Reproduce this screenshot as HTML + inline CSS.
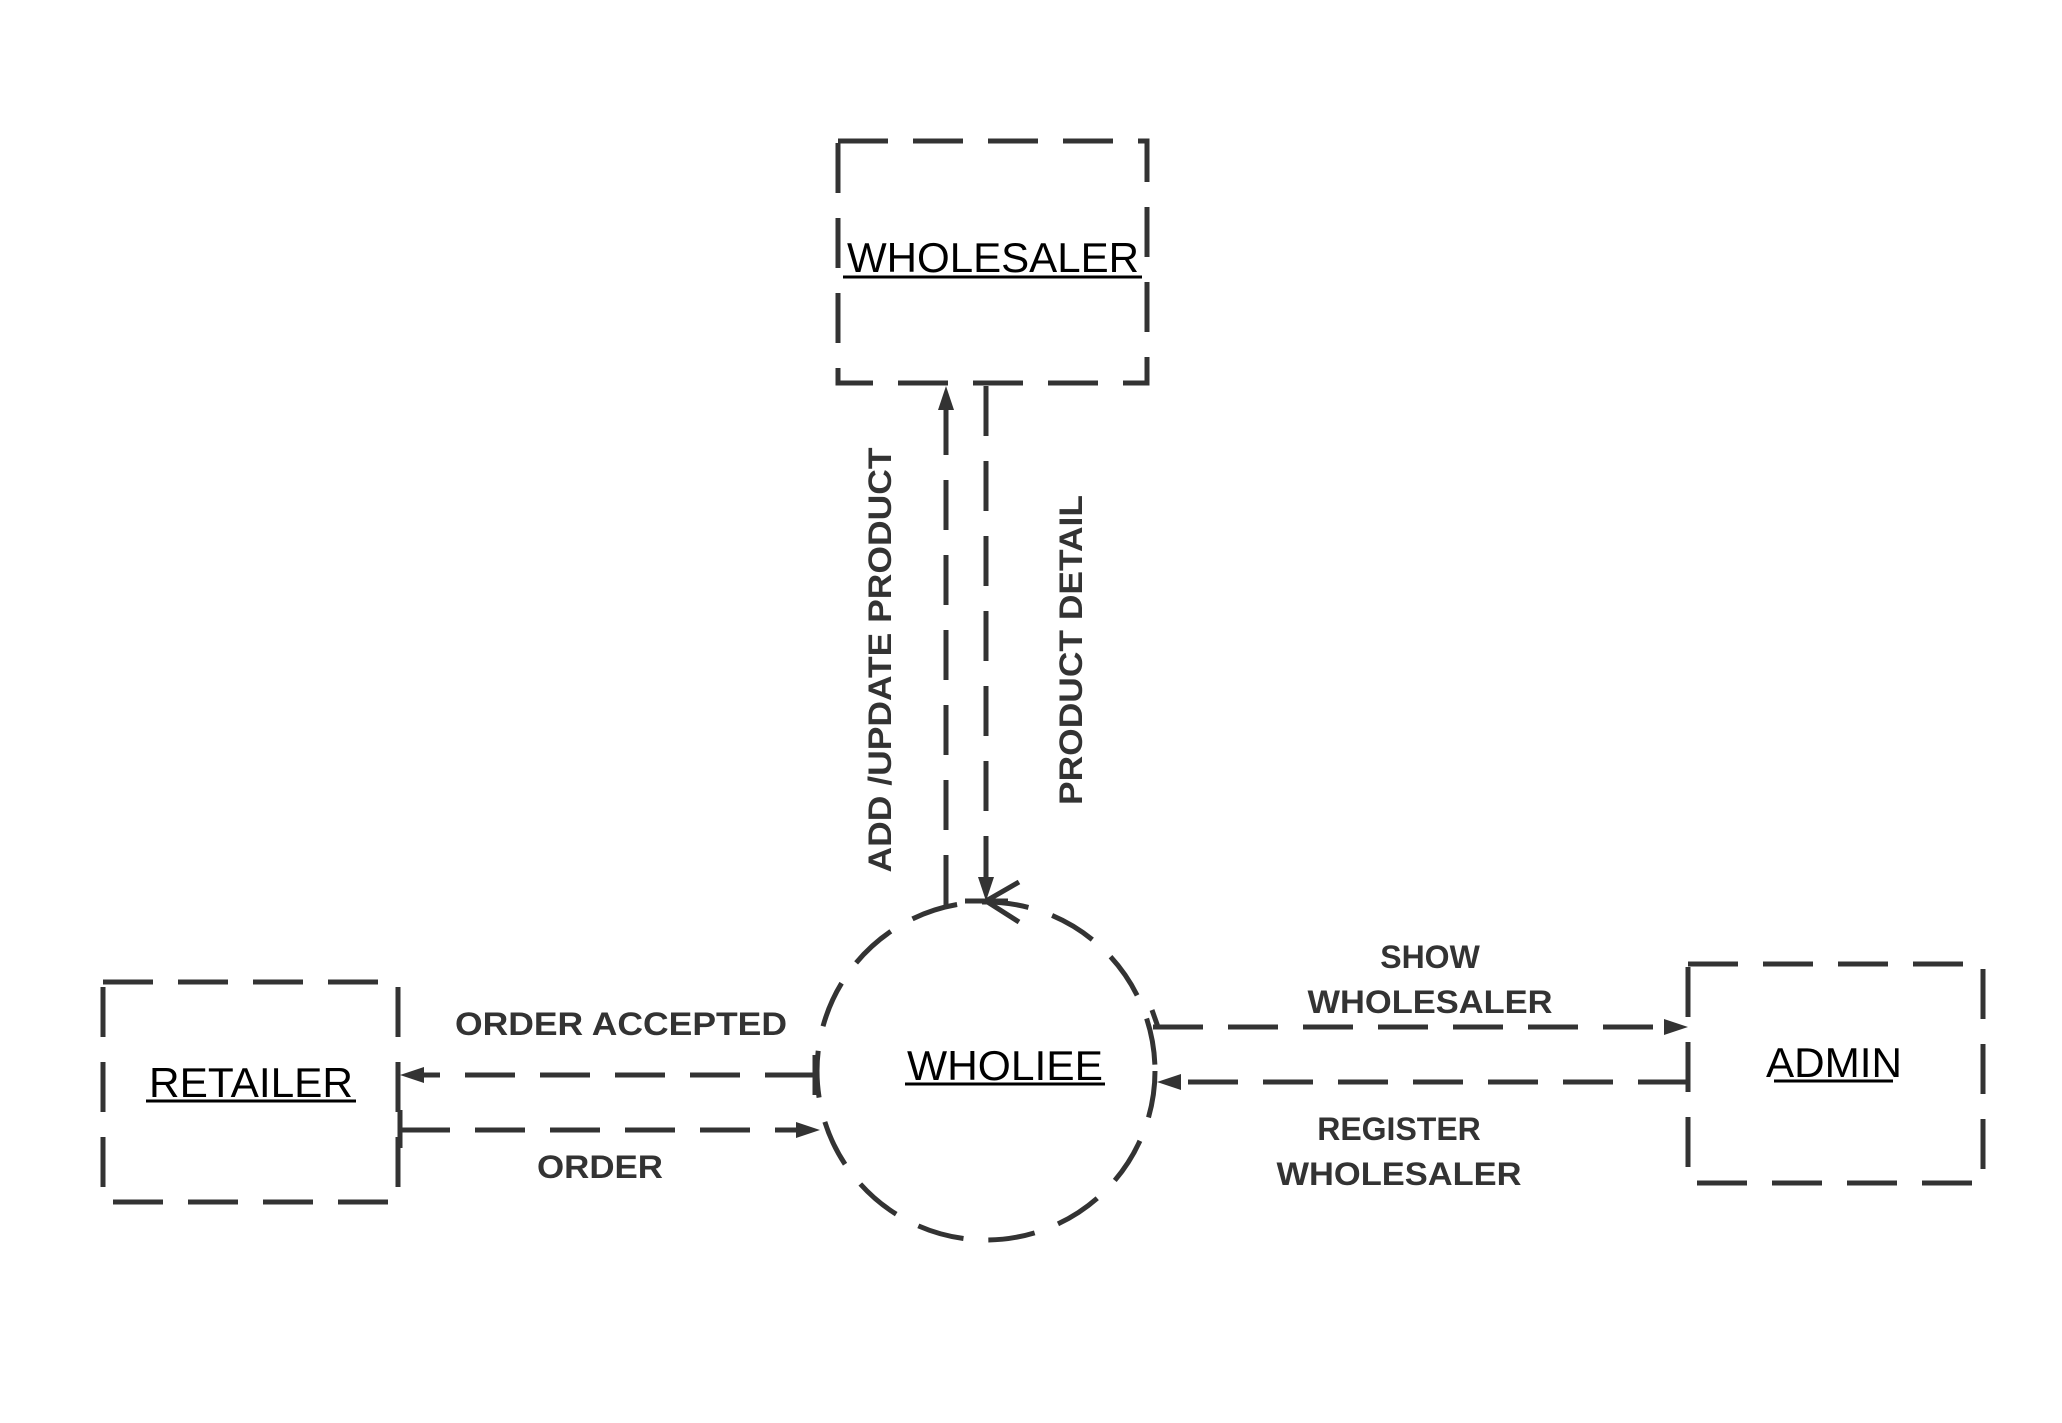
<!DOCTYPE html>
<html><head><style>html,body{margin:0;padding:0;background:#fff;}svg{display:block}</style></head>
<body>
<svg width="2062" height="1423" viewBox="0 0 2062 1423" xmlns="http://www.w3.org/2000/svg">
<g fill="none" stroke="#333" stroke-width="5" stroke-dasharray="50 25">
<rect x="838" y="141" width="309" height="242"/>
<rect x="103" y="982" width="295" height="220"/>
<rect x="1688" y="964" width="295" height="219"/>
<circle cx="986" cy="1071" r="169" stroke-dasharray="47 25"/>
<line x1="946" y1="905" x2="946" y2="400"/>
<line x1="986" y1="386" x2="986" y2="885"/>
<line x1="815" y1="1075" x2="418" y2="1075"/>
<line x1="400" y1="1130" x2="805" y2="1130"/>
<line x1="1153" y1="1027" x2="1668" y2="1027"/>
<line x1="1688" y1="1082" x2="1176" y2="1082"/>
</g>
<g fill="#333">
<polygon points="946,386 938,410 954,410"/>
<polygon points="986,901 978,877 994,877"/>
<polygon points="400,1075 424,1067 424,1083"/>
<polygon points="820,1130 796,1122 796,1138"/>
<polygon points="1688,1027 1664,1019 1664,1035"/>
<polygon points="1157,1082 1181,1074 1181,1090"/>
</g>
<g stroke="#333" stroke-width="5" fill="none">
<polyline points="1019,882 986,901 1019,922"/>
<line x1="965" y1="901" x2="1008" y2="901"/>
<line x1="815" y1="1055" x2="815" y2="1095"/>
<line x1="400" y1="1110" x2="400" y2="1148"/>
<line x1="1152" y1="1010" x2="1158" y2="1027"/>
</g>
<g font-family="Liberation Sans, sans-serif" fill="#000" text-anchor="middle" font-size="42">
<text x="993" y="272" textLength="292" lengthAdjust="spacingAndGlyphs">WHOLESALER</text>
<line x1="843" y1="277" x2="1142" y2="277" stroke="#000" stroke-width="3"/>
<text x="1005" y="1080" textLength="196" lengthAdjust="spacingAndGlyphs">WHOLIEE</text>
<line x1="905" y1="1084" x2="1105" y2="1084" stroke="#000" stroke-width="3"/>
<text x="251" y="1097" textLength="204" lengthAdjust="spacingAndGlyphs">RETAILER</text>
<line x1="146" y1="1101" x2="356" y2="1101" stroke="#000" stroke-width="3"/>
<text x="1834" y="1077" textLength="136" lengthAdjust="spacingAndGlyphs">ADMIN</text>
<line x1="1774" y1="1081" x2="1893" y2="1081" stroke="#000" stroke-width="3"/>
</g>
<g font-family="Liberation Sans, sans-serif" font-weight="bold" fill="#333" text-anchor="middle" font-size="32">
<text x="621" y="1035" textLength="332" lengthAdjust="spacingAndGlyphs">ORDER ACCEPTED</text>
<text x="600" y="1178" textLength="126" lengthAdjust="spacingAndGlyphs">ORDER</text>
<text x="1430" y="968">SHOW</text>
<text x="1430" y="1013" textLength="245" lengthAdjust="spacingAndGlyphs">WHOLESALER</text>
<text x="1399" y="1140">REGISTER</text>
<text x="1399" y="1185" textLength="245" lengthAdjust="spacingAndGlyphs">WHOLESALER</text>
<text transform="translate(891,660) rotate(-90)" textLength="425" lengthAdjust="spacingAndGlyphs">ADD /UPDATE PRODUCT</text>
<text transform="translate(1082,650) rotate(-90)" textLength="310" lengthAdjust="spacingAndGlyphs">PRODUCT DETAIL</text>
</g>
</svg>
</body></html>
